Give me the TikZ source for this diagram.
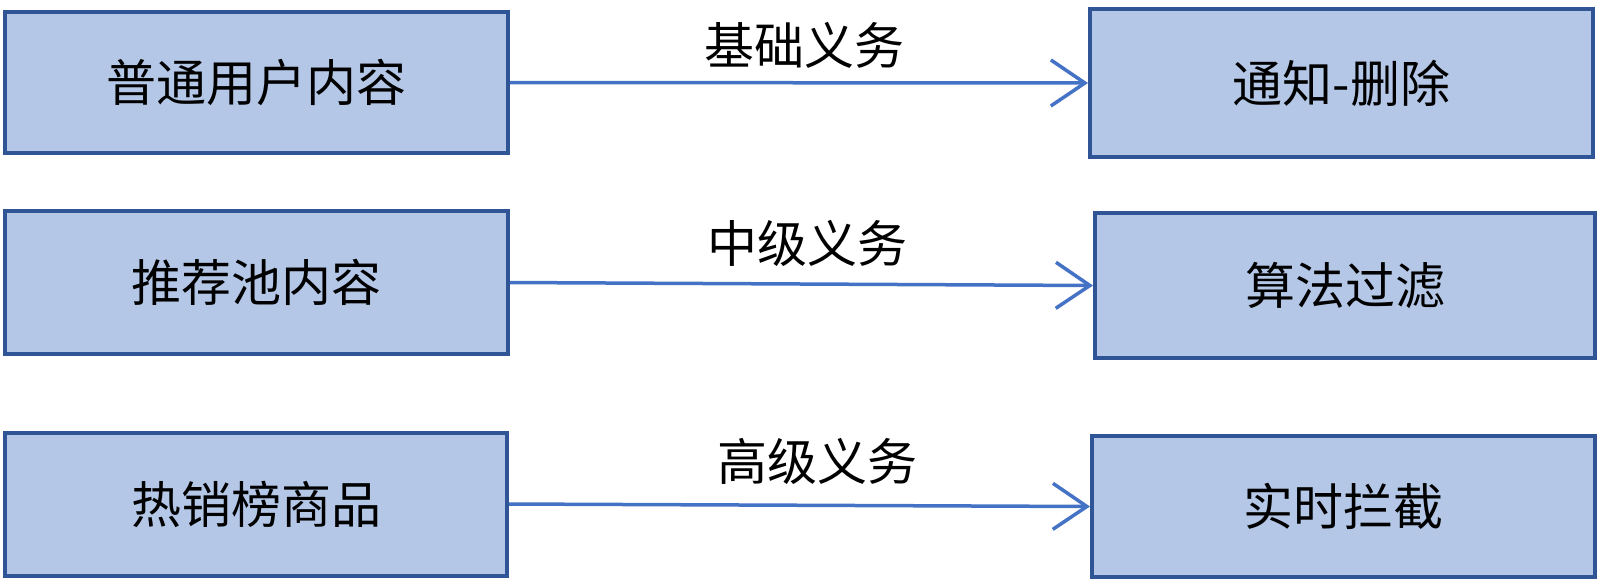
\documentclass[tikz,border=0pt]{standalone}
\usepackage{fontspec}
\newfontfamily\cjk{Noto Sans CJK SC}
\usetikzlibrary{arrows.meta}
\definecolor{boxfill}{HTML}{B4C7E7}
\definecolor{boxline}{HTML}{2F5597}
\definecolor{arrowc}{HTML}{4472C4}
\tikzset{
  boxnode/.style={draw=boxline, fill=boxfill, line width=4pt, inner sep=0pt,
    font=\cjk\fontsize{50}{56}\selectfont, text=black},
  conn/.style={draw=arrowc, line width=3.5pt, -{Straight Barb[length=34pt,width=46pt,line width=3.5pt]}},
  lbl/.style={font=\cjk\fontsize{50}{56}\selectfont, text=black, inner sep=0pt}
}
\begin{document}
\begin{tikzpicture}[x=1pt,y=-1pt]
\useasboundingbox (0,0) rectangle (1600,582);
% left boxes
\node[boxnode, minimum width=503pt, minimum height=141pt] (a1) at (256.5,82.5) {普通用户内容};
\node[boxnode, minimum width=503pt, minimum height=143pt] (a2) at (256.5,282.5) {推荐池内容};
\node[boxnode, minimum width=502pt, minimum height=143pt] (a3) at (256,504) {热销榜商品};
% right boxes
\node[boxnode, minimum width=503pt, minimum height=148pt] (b1) at (1341.5,83) {通知-删除};
\node[boxnode, minimum width=500pt, minimum height=145pt] (b2) at (1345,285.5) {算法过滤};
\node[boxnode, minimum width=503pt, minimum height=141pt] (b3) at (1343.5,506.5) {实时拦截};
% connectors
\draw[conn] (a1.east) -- (b1.west);
\draw[conn] (a2.east) -- (b2.west);
\draw[conn] (a3.east) -- (b3.west);
% labels
\node[lbl] (l1) at (804,45) {基础义务};
\node[lbl] (l2) at (807,243) {中级义务};
\node[lbl] (l3) at (817,461) {高级义务};
\end{tikzpicture}
\end{document}
